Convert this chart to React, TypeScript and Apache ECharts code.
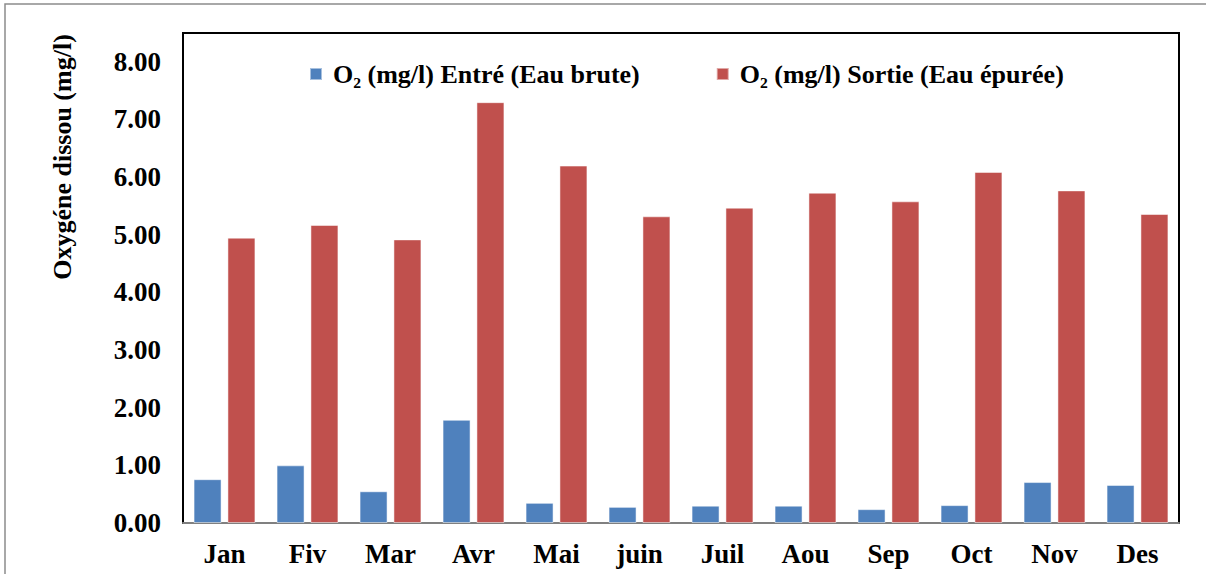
import React, { useEffect, useRef } from "react";
import * as echarts from "echarts";

const months = ["Jan", "Fiv", "Mar", "Avr", "Mai", "juin", "Juil", "Aou", "Sep", "Oct", "Nov", "Des"];
const entree = [0.76, 1.0, 0.55, 1.79, 0.35, 0.28, 0.3, 0.3, 0.24, 0.31, 0.71, 0.66];
const sortie = [4.95, 5.17, 4.92, 7.3, 6.2, 5.32, 5.47, 5.73, 5.58, 6.09, 5.77, 5.36];
const seriesNames = ["O₂ (mg/l) Entré (Eau brute)", "O₂ (mg/l) Sortie (Eau épurée)"];
const yTitle = "Oxygéne dissou (mg/l)";

const FONT = "'Liberation Serif', 'Times New Roman', serif";

export default function App() {
  const ref = useRef<HTMLDivElement>(null);
  useEffect(() => {
    if (!ref.current) return;
    const chart = echarts.init(ref.current, null, { renderer: "svg" });
    chart.setOption({
      animation: false,
      backgroundColor: "#fff",
      textStyle: { fontFamily: FONT },
      graphic: [
        {
          type: "rect",
          shape: { x: 5, y: 4, width: 1250, height: 620 },
          style: { fill: "none", stroke: "#8c8c8c", lineWidth: 1.5 },
          silent: true,
        },
        {
          type: "text",
          x: 62,
          y: 157,
          rotation: Math.PI / 2,
          style: {
            text: yTitle,
            font: `bold 26px ${FONT}`,
            fill: "#000",
            align: "center",
            verticalAlign: "middle",
          },
        },
      ],
      legend: {
        top: 56,
        left: 304,
        icon: "rect",
        itemWidth: 12,
        itemHeight: 12,
        itemGap: 76,
        textStyle: {
          fontFamily: FONT,
          fontWeight: "bold",
          fontSize: 26,
          color: "#000",
          padding: [0, 0, 0, 6],
        },
        data: seriesNames,
      },
      grid: {
        left: 183,
        right: 27,
        top: 33,
        bottom: 51,
        show: true,
        borderColor: "#000",
        borderWidth: 2,
        backgroundColor: "transparent",
      },
      xAxis: {
        type: "category",
        data: months,
        axisLine: { show: true, lineStyle: { color: "#808080", width: 2 } },
        axisTick: { show: false },
        axisLabel: { fontFamily: FONT, fontWeight: "bold", fontSize: 27, color: "#000", margin: 17 },
      },
      yAxis: {
        type: "value",
        min: 0,
        max: 8.5,
        interval: 1,
        splitLine: { show: false },
        axisLine: { show: true, lineStyle: { color: "#000", width: 2 } },
        axisTick: { show: false },
        axisLabel: {
          fontFamily: FONT,
          fontWeight: "bold",
          fontSize: 27,
          color: "#000",
          margin: 22,
          formatter: (v: number) => (Math.abs(v - Math.round(v)) < 1e-9 ? v.toFixed(2) : ""),
        },
      },
      series: [
        {
          name: seriesNames[0],
          type: "bar",
          data: entree,
          barWidth: 28,
          barGap: "21%",
          itemStyle: { color: "#4F81BD", borderColor: "rgba(255,255,255,0.5)", borderWidth: 1 },
        },
        {
          name: seriesNames[1],
          type: "bar",
          data: sortie,
          barWidth: 28,
          barGap: "21%",
          itemStyle: { color: "#C0504D", borderColor: "rgba(255,255,255,0.5)", borderWidth: 1 },
        },
      ],
    });
    return () => chart.dispose();
  }, []);
  return (
    <div
      ref={ref}
      style={{ position: "fixed", left: 0, top: 0, width: 1206, height: 574 }}
    />
  );
}
